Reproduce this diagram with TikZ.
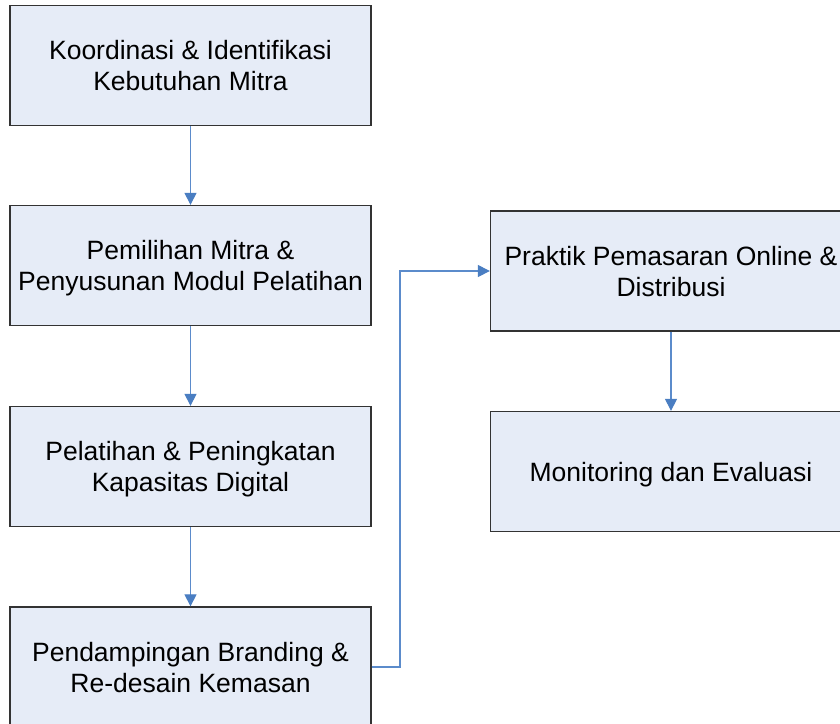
\documentclass[tikz,border=0pt]{standalone}
\usepackage{fontspec}
\setmainfont{Liberation Sans}
\usetikzlibrary{arrows.meta}
\definecolor{boxfill}{HTML}{E6ECF7}
\definecolor{boxline}{HTML}{333333}
\definecolor{conn}{HTML}{5B8BCB}
\definecolor{tipc}{HTML}{4A7EC2}
\tikzset{
  stepbox/.style={draw=boxline, fill=boxfill, line width=1.3pt,
    minimum width=361pt, minimum height=120pt, inner sep=0pt,
    align=center, text depth=0pt,
    font=\fontsize{26.5}{31}\selectfont},
  flow/.style={draw=conn, line width=1.1pt,
    -{Triangle[length=12pt,width=12pt,color=tipc]}}
}
\begin{document}
\begin{tikzpicture}[x=1pt,y=-1pt]
\useasboundingbox (0,0) rectangle (840,723);
\clip (0,0) rectangle (840,723);
\node[stepbox] (b1) at (190.5,65.5) {Koordinasi \& Identifikasi\\Kebutuhan Mitra};
\node[stepbox] (b2) at (190.5,265.5) {Pemilihan Mitra \&\\Penyusunan Modul Pelatihan};
\node[stepbox] (b3) at (190.5,466.5) {Pelatihan \& Peningkatan\\Kapasitas Digital};
\node[stepbox] (b4) at (190.5,667) {Pendampingan Branding \&\\Re-desain Kemasan};
\node[stepbox] (b5) at (671,271) {Praktik Pemasaran Online \&\\Distribusi};
\node[stepbox] (b6) at (671,471.5) {Monitoring dan Evaluasi};
\coordinate (elb) at (400,667);
\draw[flow] (b1.south) -- (b2.north);
\draw[flow] (b2.south) -- (b3.north);
\draw[flow] (b3.south) -- (b4.north);
\draw[flow] (b4.east) -- (elb) |- (b5.west);
\draw[flow] (b5.south) -- (b6.north);
\end{tikzpicture}
\end{document}
